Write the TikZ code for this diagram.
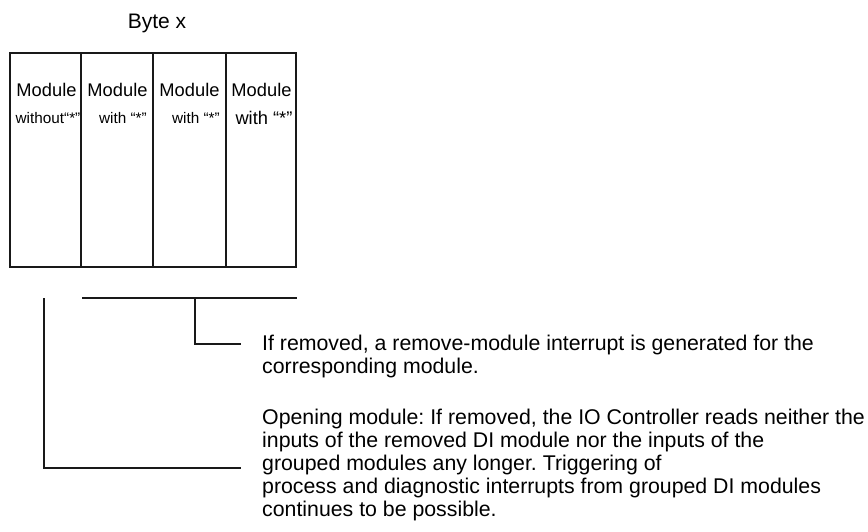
\documentclass[tikz,border=0pt]{standalone}
\usepackage{fontspec}
\setmainfont{Liberation Sans}
\frenchspacing
\begin{document}
\begin{tikzpicture}[x=1pt,y=-1pt,
  frame/.style={line width=1.6pt, draw=black!90},
  wire/.style={line width=1.4pt, draw=black!90},
  big/.style={font=\fontsize{18.3}{22}\selectfont, inner sep=0pt},
  small/.style={font=\fontsize{15.3}{18}\selectfont, inner sep=0pt},
  head/.style={font=\fontsize{21}{24}\selectfont, inner sep=0pt},
  para/.style={font=\frenchspacing\fontsize{21.3}{22.4}\selectfont, inner sep=0pt, align=left, anchor=north west}]
\useasboundingbox (0,0) rectangle (868,532);
% title
\node[head] (title) at (157,23) {Byte x};
% box
\draw[frame] (10,53) rectangle (296,267);
\draw[frame] (81,53) -- (81,267);
\draw[frame] (153,53) -- (153,267);
\draw[frame] (226,53) -- (226,267);
% labels
\node[big] (m1) at (46.5,90) {Module};
\node[big] (m2) at (117.5,90) {Module};
\node[big] (m3) at (189.5,90) {Module};
\node[big] (m4) at (261.5,90) {Module};
\node[small] (w1) at (48,118) {without“*”};
\node[small] (w2) at (123,118) {with “*”};
\node[small] (w3) at (196,118) {with “*”};
\node[big] (w4) at (264,118) {with “*”};
% brackets
\coordinate (h1) at (82,298);
\coordinate (h2) at (297,298);
\coordinate (v1) at (195,298);
\coordinate (c1) at (195,344);
\coordinate (e1) at (241,344);
\coordinate (v2) at (44,298);
\coordinate (c2) at (44,468);
\coordinate (e2) at (241,468);
\draw[wire] (h1) -- (h2);
\draw[wire] (v1) -- (c1) -- (e1);
\draw[wire] (v2) -- (c2) -- (e2);
% texts
\node[para] (t1) at (262,334.5) {If removed, a remove-module interrupt is generated for the\\[0.8pt]corresponding module.};
\node[para] (t2) at (262,408.5) {Opening module: If removed, the IO Controller reads neither the\\[0.6pt]inputs of the removed DI module nor the inputs of the\\[0.6pt]grouped modules any longer. Triggering of\\[0.6pt]process and diagnostic interrupts from grouped DI modules\\[0.6pt]continues to be possible.};
\end{tikzpicture}
\end{document}
